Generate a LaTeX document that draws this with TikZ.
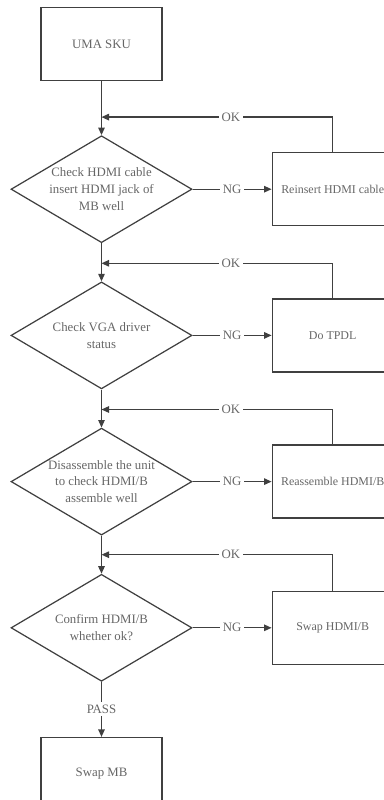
\documentclass[tikz,border=0pt]{standalone}
\usepackage{fontspec}
\setmainfont{Liberation Serif}
\usetikzlibrary{arrows.meta, positioning, shapes.geometric}

\begin{document}
\begin{tikzpicture}[
  x=0.02cm, y=-0.02cm,
  every node/.style={font=\fontsize{7.3}{9.6}\selectfont, text=black!60},
  box/.style={draw=black!75, line width=0.7pt, minimum width=24.2mm, minimum height=14.6mm, align=center, inner sep=0pt},
  fixbox/.style={box, font=\fontsize{6.8}{9.6}\selectfont},
  check/.style={draw=black!75, line width=0.7pt, diamond, shape aspect=1.69, minimum width=36.2mm, minimum height=21.4mm, align=center, inner sep=0pt},
  tag/.style={fill=white, inner sep=1.5pt},
  arrow/.style={-{Triangle[length=1.5mm, width=1.3mm]}, line width=0.7pt, draw=black!75}
  ]
\useasboundingbox (0,0) rectangle (384,800);
\clip (0,0) rectangle (384,800);

% Nodes
\node[box] (uma) at (101.5,44) {UMA SKU};
\node[check, below=10.8mm of uma] (chk1) {Check HDMI cable\\insert HDMI jack of\\MB well};
\node[fixbox, right=15.8mm of chk1] (fix1) {Reinsert HDMI cable};
\node[check, below=7.6mm of chk1] (chk2) {Check VGA driver\\status};
\node[fixbox, right=15.8mm of chk2] (fix2) {Do TPDL};
\node[check, below=7.6mm of chk2] (chk3) {Disassemble the unit\\to check HDMI/B\\assemble well};
\node[fixbox, right=15.8mm of chk3] (fix3) {Reassemble HDMI/B};
\node[check, below=7.6mm of chk3] (chk4) {Confirm HDMI/B\\whether ok?};
\node[fixbox, right=15.8mm of chk4] (fix4) {Swap HDMI/B};
\node[box, below=11mm of chk4] (mb) {Swap MB};

% Merge points
\coordinate[above=3.6mm of chk1.north] (m1);
\coordinate[above=3.6mm of chk2.north] (m2);
\coordinate[above=3.6mm of chk3.north] (m3);
\coordinate[above=3.8mm of chk4.north] (m4);

% Arrows
\draw[arrow] (uma) -- (chk1);
\draw[arrow] (chk1) -- (chk2);
\draw[arrow] (chk2) -- (chk3);
\draw[arrow] (chk3) -- (chk4);
\draw[arrow] (chk4) -- node[tag] {PASS} (mb);
\foreach \i in {1,...,4}{
  \draw[arrow] (chk\i) -- node[tag] {NG} (fix\i);
  \draw[arrow] (fix\i.north) |- node[tag, pos=0.72] {OK} (m\i);
}

\end{tikzpicture}
\end{document}
